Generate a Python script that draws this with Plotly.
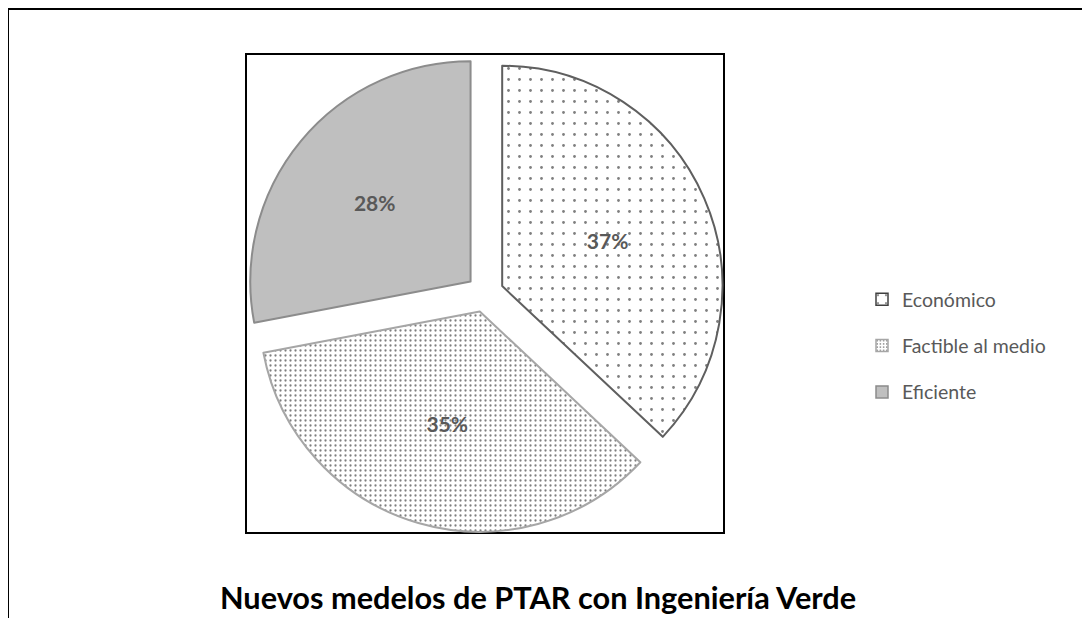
import plotly.graph_objects as go

labels = ["Económico", "Factible al medio", "Eficiente"]
values = [37, 35, 28]
title_text = "Nuevos medelos de PTAR con Ingeniería Verde"

W, H = 1090, 618
OFF = 8  # page body margin

def px(x):
    return (x - OFF) / W

def py(y):
    return 1 - (y - OFF) / H

fills = ["white", "white", "#BFBFBF"]
edges = ["#5f5f5f", "#a6a6a6", "#8c8c8c"]
pat_shape = [".", ".", ""]
pat_size = [11, 5, 8]
pat_solid = [0.05, 0.16, 0.1]

fig = go.Figure()
fig.add_trace(go.Pie(
    labels=labels,
    values=values,
    sort=False,
    direction="clockwise",
    rotation=0,
    pull=[0.085, 0.085, 0.085],
    textinfo="percent",
    textposition="inside",
    insidetextorientation="horizontal",
    textfont=dict(family="Lato", size=21, color="#595959", weight="bold"),
    marker=dict(
        colors=fills,
        line=dict(color=edges, width=2),
        pattern=dict(
            shape=pat_shape,
            size=pat_size,
            solidity=pat_solid,
            fgcolor="black",
            bgcolor=fills,
            fillmode="overlay",
        ),
    ),
    domain=dict(x=[px(246), px(724)], y=[py(533), py(54)]),
    hoverinfo="label+percent",
    showlegend=False,
))

# legend entries (one per slice, same styling as the slices)
leg_size = [10, 4, 4]
leg_solid = [0.06, 0.2, 0.2]
for i, lab in enumerate(labels):
    fig.add_trace(go.Bar(
        x=[None], y=[None], name=lab, legendgroup=lab,
        marker=dict(
            color=fills[i],
            line=dict(color=edges[i] if i != 0 else "#404040", width=1.5),
            pattern=dict(shape=pat_shape[i], size=leg_size[i], solidity=leg_solid[i],
                         fgcolor="black", bgcolor=fills[i], fillmode="overlay"),
        ),
        hoverinfo="skip",
    ))

shapes = [
    dict(type="rect", xref="paper", yref="paper",
         x0=px(246), x1=px(724), y0=py(533), y1=py(54),
         line=dict(color="black", width=2), layer="below"),
    dict(type="line", xref="paper", yref="paper",
         x0=px(8), x1=px(8), y0=py(9), y1=0,
         line=dict(color="black", width=2)),
    dict(type="line", xref="paper", yref="paper",
         x0=px(8), x1=1, y0=py(9), y1=py(9),
         line=dict(color="black", width=2)),
]

fig.update_layout(
    width=W, height=H,
    margin=dict(l=0, r=0, t=0, b=0),
    paper_bgcolor="white",
    plot_bgcolor="rgba(0,0,0,0)",
    xaxis=dict(visible=False),
    yaxis=dict(visible=False),
    shapes=shapes,
    showlegend=True,
    legend=dict(
        x=px(862), y=py(346), xanchor="left", yanchor="middle",
        font=dict(family="Lato", size=19.5, color="#595959"),
        bgcolor="rgba(0,0,0,0)",
        itemwidth=30,
        tracegroupgap=18,
    ),
    annotations=[dict(
        text="<b>" + title_text + "</b>",
        x=px(538), y=py(597), xref="paper", yref="paper",
        xanchor="center", yanchor="middle", showarrow=False,
        font=dict(family="Lato", size=30.7, color="black"),
    )],
)

fig.write_html("out.html")
